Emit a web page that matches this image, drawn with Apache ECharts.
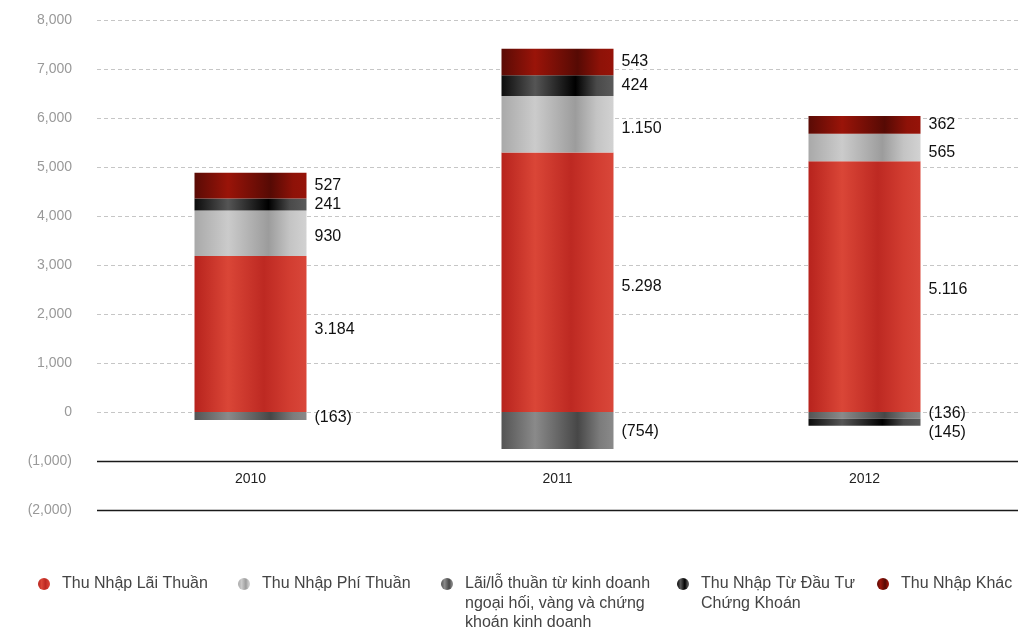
<!DOCTYPE html>
<html>
<head>
<meta charset="utf-8">
<title>Cơ cấu thu nhập hoạt động 2010–2012</title>
<script src="https://cdn.jsdelivr.net/npm/echarts@6/dist/echarts.min.js"></script>
<style>
  html, body { margin: 0; padding: 0; background: #fff; }
  #chart { width: 1018px; height: 628px; }
</style>
</head>
<body>
<div id="chart"></div>
<script>
// Years on the category axis
const years = ['2010', '2011', '2012'];

// Income components (billion VND), stacked per year
const thuNhapLaiThuan = [3184, 5298, 5116];
const thuNhapPhiThuan = [930, 1150, 565];
const laiLoNgoaiHoi = [-163, -754, -136];
const thuNhapDauTuCK = [241, 424, -145];
const thuNhapKhac = [527, 543, 362];

// Series names (legend text)
const seriesNames = [
  'Thu Nhập Lãi Thuần',
  'Thu Nhập Phí Thuần',
  'Lãi/lỗ thuần từ kinh doanh\nngoại hối, vàng và chứng\nkhoán kinh doanh',
  'Thu Nhập Từ Đầu Tư\nChứng Khoán',
  'Thu Nhập Khác'
];

// Value axis range
const yMin = -2000, yMax = 8000, yStep = 1000;

const FONT = '"Liberation Sans", Arial, Helvetica, sans-serif';

// Horizontal gradient giving each bar a cylindrical sheen
function sheen(stops) {
  return {
    type: 'linear', x: 0, y: 0, x2: 1, y2: 0,
    colorStops: stops.map(([offset, color]) => ({ offset, color }))
  };
}

const fills = [
  sheen([[0, '#b7231d'], [0.3, '#da4637'], [0.62, '#bd2922'], [0.85, '#d23d31'], [1, '#d9473a']]),
  sheen([[0, '#a9a9a9'], [0.3, '#cbcbcb'], [0.66, '#9c9c9c'], [0.85, '#c4c4c4'], [1, '#d2d2d2']]),
  sheen([[0, '#545454'], [0.3, '#8a8a8a'], [0.68, '#474747'], [0.88, '#7c7c7c'], [1, '#8a8a8a']]),
  sheen([[0, '#0c0c0c'], [0.3, '#555555'], [0.66, '#000000'], [0.85, '#4a4a4a'], [1, '#5a5a5a']]),
  sheen([[0, '#5a0b05'], [0.3, '#9a1409'], [0.68, '#560a04'], [0.88, '#8e1208'], [1, '#961309']])
];

// Number formats: "3.184" for bar values, "(163)" for negatives
function barValueText(v) {
  const s = Math.abs(v).toString().replace(/\B(?=(\d{3})+(?!\d))/g, '.');
  return v < 0 ? '(' + s + ')' : s;
}
function axisValueText(v) {
  const s = Math.abs(v).toString().replace(/\B(?=(\d{3})+(?!\d))/g, ',');
  return v < 0 ? '(' + s + ')' : s;
}

// Small vertical nudges for labels that would otherwise collide
const labelNudge = [
  [-4, 4, 3],
  [3, 4, 5],
  [2, 1, -2],
  [0, 0, 10],
  [0, 0, 0]
];

const seriesData = [thuNhapLaiThuan, thuNhapPhiThuan, laiLoNgoaiHoi, thuNhapDauTuCK, thuNhapKhac];

const series = seriesData.map((values, si) => ({
  name: seriesNames[si],
  type: 'bar',
  stack: 'income',
  barWidth: 112,
  itemStyle: { color: fills[si] },
  data: values.map((v, i) => ({
    value: v,
    label: { offset: [0, labelNudge[si][i]] }
  })),
  label: {
    show: true,
    position: 'right',
    distance: 8,
    color: '#111',
    fontFamily: FONT,
    fontSize: 16,
    formatter: p => barValueText(p.value)
  }
}));

// Solid baselines at (1,000) and (2,000)
series[0].markLine = {
  silent: true,
  symbol: 'none',
  label: { show: false },
  lineStyle: { color: '#1a1a1a', width: 1.3, type: 'solid' },
  data: [{ yAxis: -1000 }, { yAxis: -2000 }]
};

// Legend entries: one legend per item so each sits at its own x.
// Multi-line entries are prefixed with blank lines so that the first
// printed line lines up with the dot (legend text is centred on the icon).
const legendLefts = [38, 238, 441, 677, 877];
const lineH = 19.5;
const legendRow = 584;
const legends = seriesNames.map((name, i) => {
  const lines = name.split('\n').length;
  return {
    data: [{ name, icon: 'circle' }],
    left: legendLefts[i],
    top: legendRow - (2 * lines - 1) * lineH / 2,
    padding: 0,
    itemWidth: 26,
    itemHeight: 12,
    selectedMode: false,
    formatter: n => '\n'.repeat(lines - 1) + n,
    textStyle: {
      fontFamily: FONT,
      fontSize: 16,
      color: '#444',
      lineHeight: lineH
    }
  };
});

const splitColors = [];
for (let v = yMin; v <= yMax; v += yStep) splitColors.push(v < 0 ? 'rgba(0,0,0,0)' : '#c6c6c6');

const chart = echarts.init(document.getElementById('chart'), null, { renderer: 'canvas' });
chart.setOption({
  animation: false,
  backgroundColor: '#ffffff',
  grid: { left: 97, right: 0, top: 20, bottom: 118, containLabel: false },
  legend: legends,
  xAxis: {
    type: 'category',
    data: years,
    offset: -49,
    axisLine: { show: false },
    axisTick: { show: false },
    axisLabel: { margin: 11, color: '#222', fontFamily: FONT, fontSize: 14 }
  },
  yAxis: {
    type: 'value',
    min: yMin,
    max: yMax,
    interval: yStep,
    axisLine: { show: false },
    axisTick: { show: false },
    axisLabel: {
      margin: 25,
      color: '#999',
      fontFamily: FONT,
      fontSize: 14,
      formatter: axisValueText
    },
    splitLine: {
      show: true,
      lineStyle: { color: splitColors, type: [4, 3], width: 1 }
    }
  },
  series
});
</script>
</body>
</html>
